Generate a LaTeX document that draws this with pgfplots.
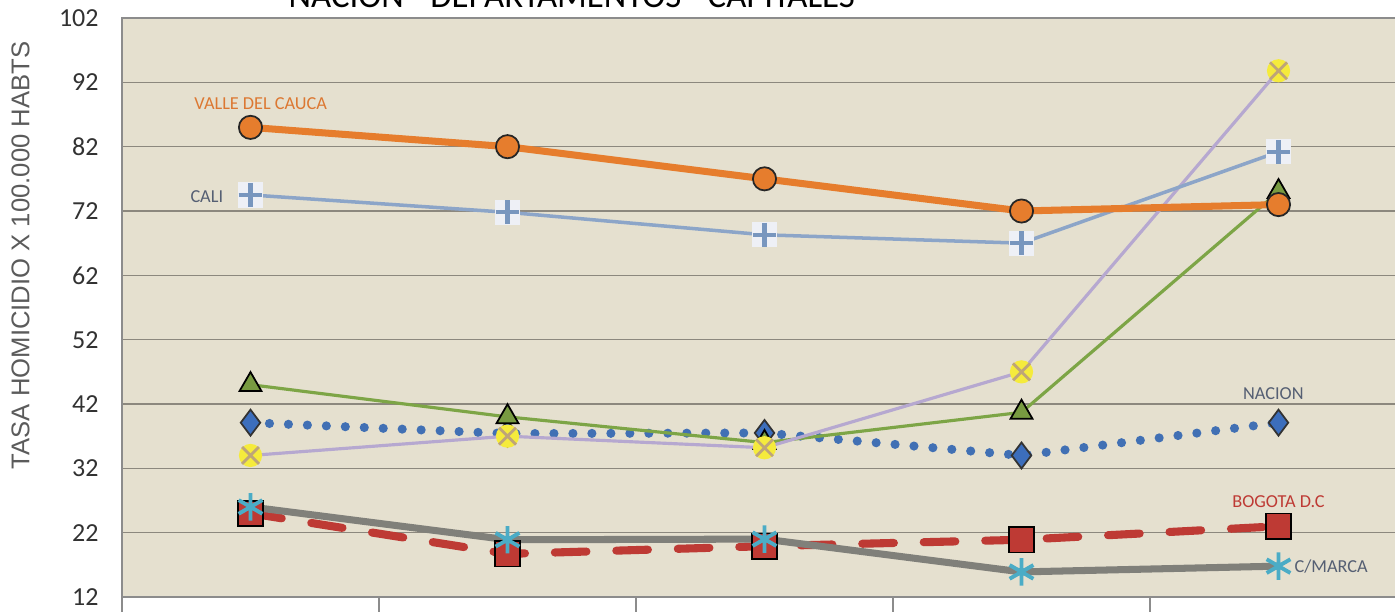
\documentclass[border=0pt]{standalone}
\usepackage{pgfplots}
\pgfplotsset{compat=1.18}
\usepackage{fontspec}
\setmainfont{Carlito}
\newfontfamily\arialf{Liberation Sans}
\definecolor{bg}{RGB}{229,224,207}
\definecolor{gridc}{RGB}{140,136,126}
\definecolor{axisc}{RGB}{140,140,140}
\definecolor{tickc}{RGB}{50,50,50}
\definecolor{valle}{RGB}{230,125,45}
\definecolor{vallet}{RGB}{220,120,50}
\definecolor{cali}{RGB}{140,165,200}
\definecolor{calim}{RGB}{120,150,190}
\definecolor{calif}{RGB}{238,240,246}
\definecolor{greenl}{RGB}{125,165,70}
\definecolor{greenm}{RGB}{120,155,65}
\definecolor{lav}{RGB}{182,168,208}
\definecolor{yel}{RGB}{245,235,60}
\definecolor{xcol}{RGB}{190,165,120}
\definecolor{nac}{RGB}{65,112,180}
\definecolor{nacm}{RGB}{60,110,188}
\definecolor{bog}{RGB}{190,58,52}
\definecolor{cmar}{RGB}{128,128,122}
\definecolor{cyanm}{RGB}{75,172,198}
\definecolor{labg}{RGB}{85,95,115}
\pgfplotstableread{
x valle cali green lav nacion bogota cmarca
0 85.0 74.5 45.0 34.0 39.1 25.0 26.0
1 82.0 71.8 40.0 37.0 37.4 18.7 20.9
2 77.0 68.3 36.0 35.2 37.5 19.9 21.0
3 72.0 67.0 40.7 47.0 34.0 20.9 15.9
4 73.0 81.2 75.0 93.8 39.1 23.0 16.8
}\datatable
\begin{document}
\begin{tikzpicture}
\begin{axis}[
 scale only axis, width=12.85cm, height=5.79cm,
 xmin=-0.5, xmax=4.5, ymin=12, ymax=102,
 xtick={-0.5,0.5,1.5,2.5,3.5,4.5}, xticklabels={},
 xtick pos=left,
 ytick={12,22,...,102},
 /pgf/number format/assume math mode=true,
 ymajorgrids, grid style={gridc, line width=0.45pt},
 axis line style={axisc, line width=0.6pt},
 tick align=outside, major tick length=0.25cm,
 xtick style={axisc, line width=0.4pt},
 ytick style={draw=none},
 axis background/.style={fill=bg},
 yticklabel style={font=\fontsize{7.4}{8}\selectfont, text=tickc, xshift=0.14cm},
 clip=false,
]
% BOGOTA
\addplot[bog, line width=2.3pt, dash pattern=on 9pt off 8.5pt, line cap=round,
  mark=square*, mark size=3.6pt, mark options={solid, fill=bog, draw=black, line width=0.5pt}]
  table[x=x,y=bogota]{\datatable};
% C/MARCA
\addplot[cmar, line width=2pt,
  mark=asterisk, mark size=3.9pt, mark options={cyanm, line width=1.1pt}]
  table[x=x,y=cmarca]{\datatable};
% NACION
\addplot[nac, line width=2.6pt, dash pattern=on 0pt off 5.4pt, line cap=round,
  mark=diamond*, mark size=3.7pt, mark options={solid, fill=nacm, draw=black!80, line width=0.5pt}]
  table[x=x,y=nacion]{\datatable};
% green
\addplot[greenl, line width=0.9pt,
  mark=triangle*, mark size=3.6pt, mark options={fill=greenm, draw=black, line width=0.5pt}]
  table[x=x,y=green]{\datatable};
% lavender
\addplot[lav, line width=0.9pt, mark=none] table[x=x,y=lav]{\datatable};
\addplot[yel, only marks, mark=*, mark size=3.1pt, mark options={fill=yel, draw=yel}]
  table[x=x,y=lav]{\datatable};
\addplot[xcol, only marks, mark=x, mark size=3.4pt, mark options={xcol, line width=0.8pt}]
  table[x=x,y=lav]{\datatable};
% CALI
\addplot[cali, line width=1pt, mark=none] table[x=x,y=cali]{\datatable};
\addplot[calif, only marks, mark=square*, mark size=3.4pt, mark options={fill=calif, draw=calif}]
  table[x=x,y=cali]{\datatable};
\addplot[calim, only marks, mark=+, mark size=3.4pt, mark options={calim, line width=1.2pt}]
  table[x=x,y=cali]{\datatable};
% VALLE
\addplot[valle, line width=2pt,
  mark=*, mark size=3.3pt, mark options={fill=valle, draw=black!85, line width=0.5pt}]
  table[x=x,y=valle]{\datatable};
% labels
\node[font=\fontsize{5.2}{6}\selectfont, text=vallet] at (axis cs:0.04,88.7) {VALLE DEL CAUCA};
\node[font=\fontsize{5.2}{6}\selectfont, text=labg] at (axis cs:-0.17,74.2) {CALI};
\node[font=\fontsize{5.2}{6}\selectfont, text=labg] at (axis cs:3.98,43.6) {NACION};
\node[font=\fontsize{5.2}{6}\selectfont, text=bog] at (axis cs:4.0,26.8) {BOGOTA D.C};
\node[font=\fontsize{5.2}{6}\selectfont, text=labg, anchor=west, inner sep=0pt] at (axis cs:4.06,16.7) {C/MARCA};
\node[font=\arialf\fontsize{7.3}{8}\selectfont, text=tickc!80, rotate=90] at (axis description cs:-0.079,0.59) {TASA HOMICIDIO X 100.000 HABTS};
\node[font=\fontsize{9.9}{11}\selectfont, anchor=base, inner sep=0pt] at (axis description cs:0.350,1.019) {NACION - DEPARTAMENTOS - CAPITALES};
\end{axis}
\pgfresetboundingbox
\useasboundingbox (-1.22,-0.14) rectangle (12.73,5.97);
\end{tikzpicture}
\end{document}
